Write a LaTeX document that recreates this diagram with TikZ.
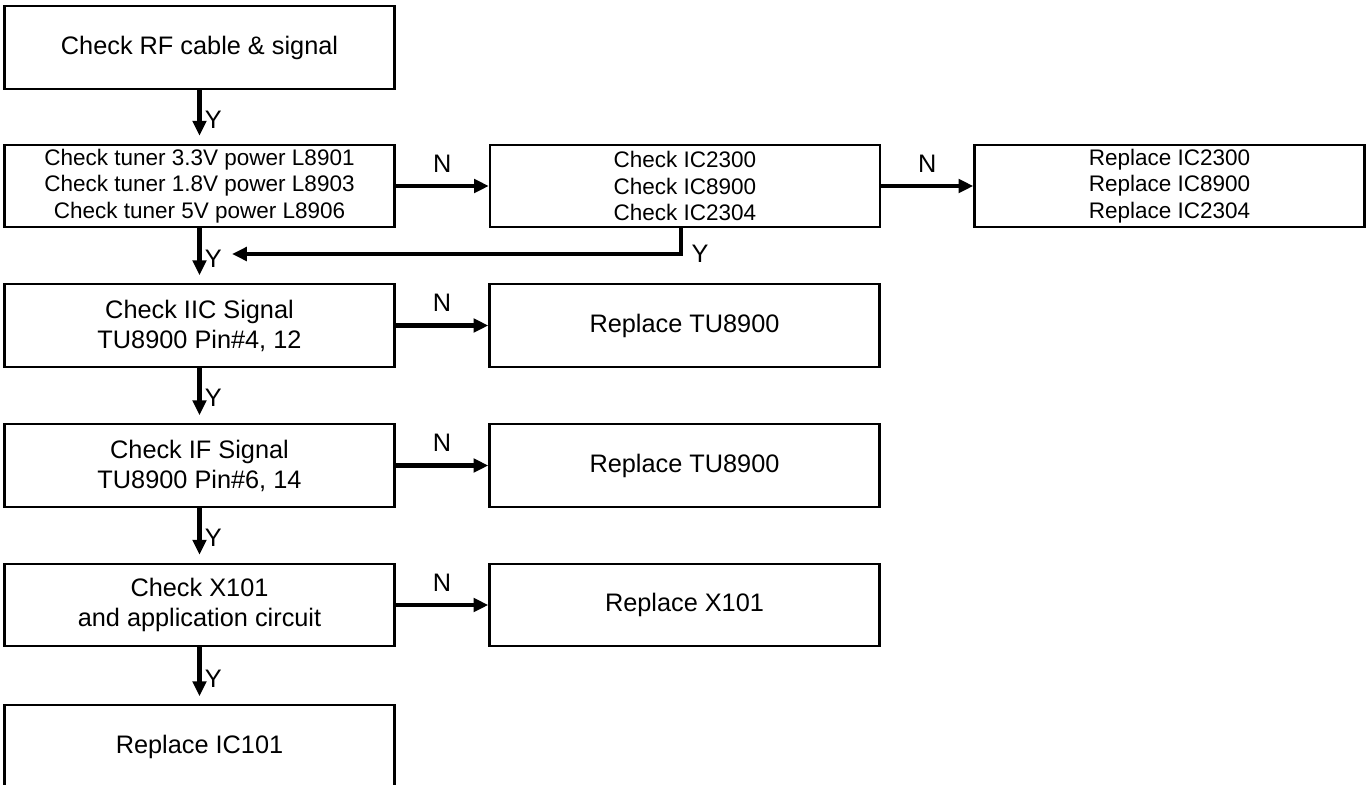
\documentclass[tikz,border=0pt]{standalone}
\usepackage{fontspec}
\setmainfont{Liberation Sans}
\usetikzlibrary{arrows.meta, positioning}

\begin{document}
\begin{tikzpicture}[x=0.025cm, y=-0.025cm,
    every node/.style={font=\fontsize{18}{21.3}\selectfont},
    chk/.style={draw, line width=1.6pt, align=center, inner sep=0pt,
      minimum width=9.75cm, minimum height=2.06cm},
    lst/.style={chk, font=\fontsize{16}{18.9}\selectfont},
    arr/.style={line width=2.9pt, -{Triangle[length=10.5pt, width=9.5pt]}},
    down/.style={arr, shorten >=0.2cm}]
  \useasboundingbox (0,0) rectangle (1368,784);

  % left column
  \node[chk] (rf)    at (199.5, 47.5)  {Check RF cable \& signal};
  \node[lst] (pwr)   at (199.5, 186)   {Check tuner 3.3V power L8901\\Check tuner 1.8V power L8903\\Check tuner 5V power L8906};
  \node[chk] (iic)   at (199.5, 325.5) {Check IIC Signal\\TU8900 Pin\#4, 12};
  \node[chk] (ifs)   at (199.5, 465.5) {Check IF Signal\\TU8900 Pin\#6, 14};
  \node[chk] (xtal)  at (199.5, 605)   {Check X101\\and application circuit};
  \node[chk] (ic101) at (199.5, 746.5) {Replace IC101};

  % right side
  \node[lst] (icchk) at (685, 186)     {Check IC2300\\Check IC8900\\Check IC2304};
  \node[lst] (icrep) at (1169.5, 186)  {Replace IC2300\\Replace IC8900\\Replace IC2304};
  \node[chk] (tua)   at (684.5, 325.5) {Replace TU8900};
  \node[chk] (tub)   at (684.5, 465.5) {Replace TU8900};
  \node[chk] (xrep)  at (684.5, 605)   {Replace X101};

  \foreach \a/\b in {rf/pwr, pwr/iic, iic/ifs, ifs/xtal, xtal/ic101}
    \draw[down] (\a) -- (\b) node[pos=0.55, right=-1pt] {Y};

  \foreach \a/\b in {pwr/icchk, icchk/icrep, iic/tua, ifs/tub, xtal/xrep}
    \draw[arr] (\a) -- (\b) node[midway, above=5pt] {N};

  \coordinate (back) at (232, 254);
  \draw[arr] ([xshift=-3]icchk.south) |- (back) node[pos=0.5, right=3pt] {Y};
\end{tikzpicture}
\end{document}
